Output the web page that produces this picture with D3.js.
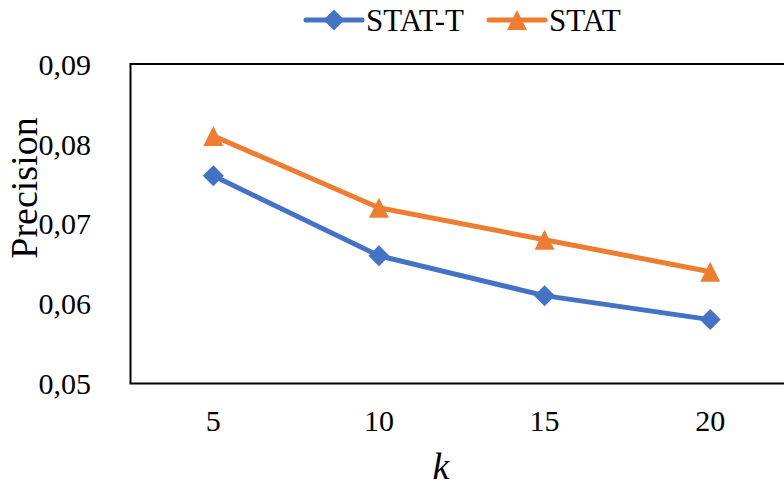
<!DOCTYPE html>
<html><head><meta charset="utf-8">
<script src="https://cdn.jsdelivr.net/npm/d3@7"></script>
<style>body{margin:0;background:#fff}svg{display:block}
text{font-family:"Liberation Serif" !important;}</style>
</head><body><svg id="c" width="784" height="488" font-family="Liberation Serif"></svg>
<script>
const categories = ["5","10","15","20"];
const statT = [0.076, 0.066, 0.061, 0.058];
const stat = [0.081, 0.072, 0.068, 0.064];
const yTicks = [0.05, 0.06, 0.07, 0.08, 0.09];
const seriesNames = ["STAT-T", "STAT"];

const FONT = '"Liberation Serif"';
const svg = d3.select("#c");
const pLeft = 130.5, pTop = 64, pBottom = 383.5, pRight = 793;
const x = d3.scaleBand().domain(categories).range([pLeft, pRight]);
const y = d3.scaleLinear().domain([0.05, 0.09]).range([pBottom, pTop]);

function serif(sel) { return sel.attr("font-family", "Liberation Serif").style("font-family", FONT); }

// frame
svg.append("path").attr("d", `M${pRight+5},${pTop}H${pLeft}V${pBottom}H${pRight+5}`)
  .attr("fill","none").attr("stroke","#000").attr("stroke-width",2);

// y labels
const yAxis = d3.axisLeft(y).tickValues(yTicks).tickSize(0).tickPadding(0)
  .tickFormat(d => d3.format(".2f")(d).replace(".", ","));
const gy = svg.append("g").attr("transform", `translate(91,0)`).call(yAxis);
serif(gy);
gy.select(".domain").remove();
serif(gy.selectAll("text")).attr("font-size", 30).attr("fill","#000").attr("dy","0.34em");

// x labels
const xAxis = d3.axisBottom(x).tickSize(0).tickPadding(0);
const gx = svg.append("g").call(xAxis);
serif(gx);
gx.select(".domain").remove();
serif(gx.selectAll("text")).attr("font-size", 30).attr("fill","#000").attr("y", 431).attr("dy", null);

// titles
serif(svg.append("text")).attr("x", 441).attr("y", 479).attr("text-anchor","middle")
  .attr("font-style","italic").attr("font-size", 38).text("k");
serif(svg.append("text")).attr("transform", `translate(37,188) rotate(-90)`).attr("text-anchor","middle")
  .attr("font-size", 38).text("Precision");

const cx = d => x(d) + x.bandwidth()/2;
const line = d3.line().x((d,i)=>cx(categories[i])).y(d=>y(d));
const colors = ["#4472C4", "#ED7D31"];
const diamond = s => `M0,${-s}L${s},0L0,${s}L${-s},0Z`;
const tri = s => `M0,${-s}L${s},${s}L${-s},${s}Z`;
const shapes = [diamond(10.5), tri(10)];

[statT, stat].forEach((vals, k) => {
  svg.append("path").datum(vals).attr("d", line).attr("fill","none")
    .attr("stroke", colors[k]).attr("stroke-width", 5).attr("stroke-linejoin","round");
  svg.selectAll(null).data(vals).enter().append("path")
    .attr("transform", (d,i)=>`translate(${cx(categories[i])},${y(d)})`)
    .attr("d", shapes[k]).attr("fill", colors[k]);
});

// legend
const legX = [306, 489];
seriesNames.forEach((n, k) => {
  const g = svg.append("g").attr("transform", `translate(${legX[k]},20)`);
  g.append("line").attr("x1",0).attr("x2",56).attr("stroke",colors[k]).attr("stroke-width",5).attr("stroke-linecap","round");
  g.append("path").attr("transform","translate(28,0)").attr("d", shapes[k]).attr("fill", colors[k]);
  serif(g.append("text")).attr("x",60).attr("y",10.5).attr("font-size",31).text(n);
});
</script></body></html>
